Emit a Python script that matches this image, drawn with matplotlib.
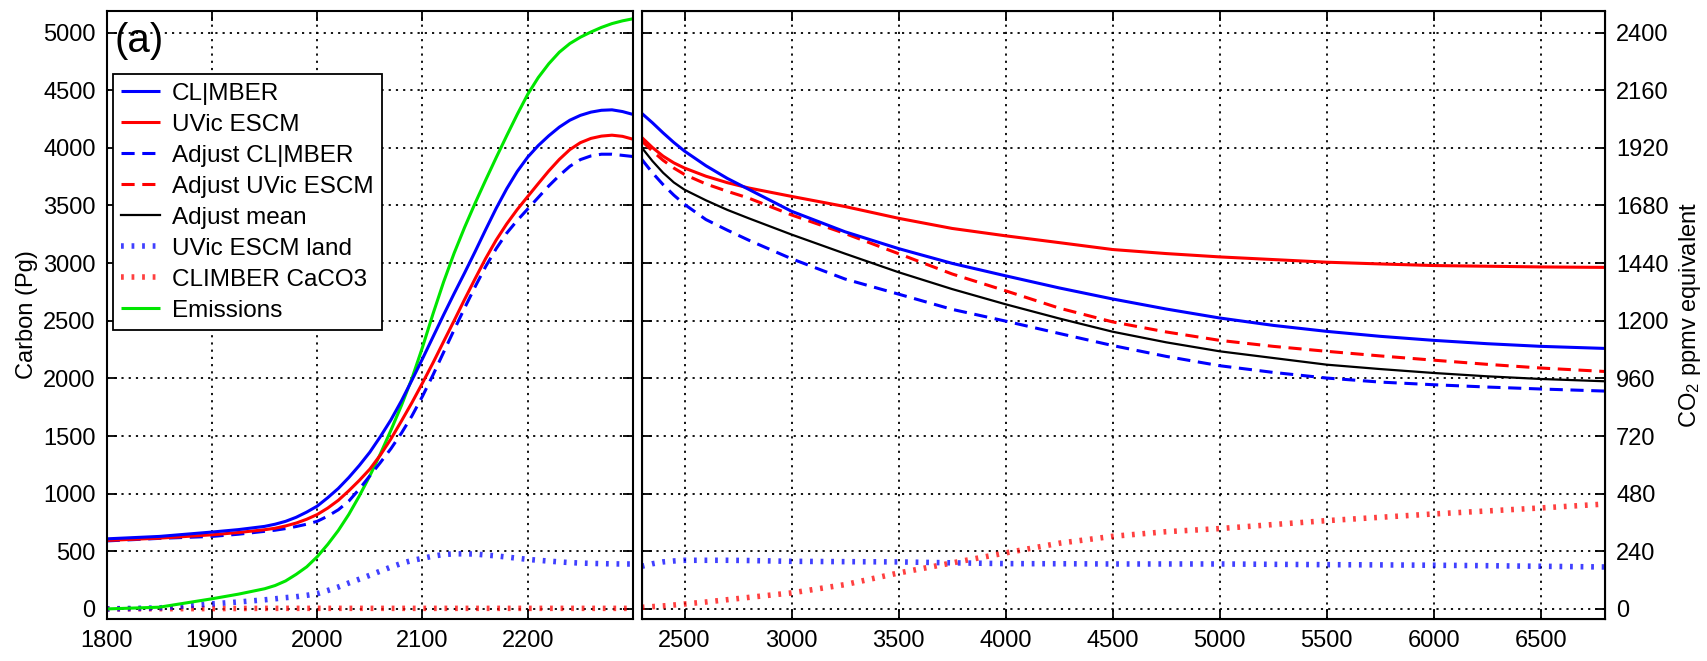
import matplotlib
matplotlib.use('Agg')
import matplotlib.pyplot as plt
from matplotlib.lines import Line2D

plt.rcParams['font.family'] = ['Liberation Sans', 'DejaVu Sans']
plt.rcParams['mathtext.fontset'] = 'custom'
plt.rcParams['mathtext.rm'] = 'Liberation Sans'
plt.rcParams['mathtext.it'] = 'Liberation Sans'

# ---------------- data (Pg C) ----------------
years_left = [1800, 1850, 1900, 1925, 1950, 1960, 1970, 1980, 1990,
              2000, 2010, 2020, 2030, 2040, 2050, 2060, 2070, 2080, 2090,
              2100, 2110, 2120, 2130, 2140, 2150, 2160, 2170, 2180, 2190,
              2200, 2210, 2220, 2230, 2240, 2250, 2260, 2270, 2280, 2290, 2300]
climber_left = [608, 629, 667, 688, 716, 735, 760, 795, 840,
                892, 965, 1045, 1140, 1245, 1360, 1495, 1640, 1805, 1985,
                2170, 2360, 2550, 2735, 2915, 3100, 3290, 3475, 3645, 3795,
                3920, 4020, 4105, 4180, 4240, 4282, 4310, 4326, 4330, 4315, 4290]
uvic_left = [594, 614, 643, 663, 687, 700, 720, 745, 778,
             819, 875, 942, 1025, 1115, 1213, 1335, 1475, 1630, 1790,
             1960, 2135, 2318, 2500, 2685, 2865, 3040, 3200, 3340, 3465,
             3578, 3690, 3800, 3900, 3985, 4045, 4082, 4102, 4110, 4100, 4075]
adj_climber_left = [590, 612, 629, 648, 673, 683, 697, 715, 735,
                    760, 805, 860, 935, 1040, 1155, 1270, 1390, 1525, 1675,
                    1845, 2030, 2225, 2420, 2610, 2795, 2970, 3125, 3260, 3370,
                    3470, 3570, 3670, 3760, 3840, 3898, 3930, 3945, 3945, 3935, 3925]
emissions_left = [0, 15, 88, 128, 175, 203, 243, 300, 365,
                  453, 560, 680, 820, 980, 1155, 1345, 1550, 1765, 2000,
                  2270, 2560, 2835, 3085, 3310, 3520, 3720, 3915, 4105, 4290,
                  4465, 4610, 4730, 4830, 4905, 4960, 5005, 5045, 5078, 5102, 5120]
land_left = [0, 9, 44, 60, 79, 88, 98, 106, 118,
             132, 160, 190, 225, 258, 292, 328, 363, 395, 420,
             439, 458, 472, 478, 478, 476, 468, 460, 450, 440,
             430, 422, 415, 408, 402, 398, 395, 393, 391, 390, 390]
caco3_left = [0, 2, 3, 4, 5, 5, 5, 5, 5,
              5, 5, 5, 5, 5, 5, 5, 5, 5, 5,
              5, 5, 5, 5, 5, 5, 5, 5, 5, 5,
              5, 5, 5, 5, 5, 5, 5, 5, 5, 5, 5]

years_right = [2300, 2350, 2400, 2450, 2500, 2600, 2700, 2800, 3000, 3250,
               3500, 3750, 4000, 4250, 4500, 4750, 5000, 5250, 5500, 5750,
               6000, 6250, 6500, 6800]
climber_right = [4300, 4218, 4130, 4047, 3972, 3845, 3735, 3640, 3450, 3272,
                 3126, 2998, 2890, 2785, 2689, 2602, 2524, 2460, 2408, 2365,
                 2330, 2301, 2278, 2260]
uvic_right = [4091, 4003, 3928, 3870, 3825, 3754, 3698, 3652, 3579, 3491,
              3389, 3301, 3237, 3178, 3118, 3083, 3054, 3031, 3008, 2993,
              2979, 2973, 2967, 2963]
adj_uvic_right = [4061, 3972, 3892, 3825, 3769, 3687, 3623, 3564, 3418, 3257,
                  3082, 2906, 2760, 2610, 2490, 2403, 2330, 2278, 2235, 2195,
                  2158, 2122, 2090, 2060]
adj_mean_right = [4003, 3886, 3784, 3700, 3637, 3545, 3462, 3389, 3248, 3082,
                  2921, 2775, 2643, 2520, 2405, 2313, 2235, 2177, 2119, 2081,
                  2047, 2018, 1995, 1975]
adj_climber_right = [3901, 3784, 3681, 3590, 3510, 3378, 3286, 3199, 3038, 2862,
                     2731, 2599, 2497, 2390, 2285, 2191, 2110, 2052, 2003, 1968,
                     1945, 1925, 1908, 1890]
land_right = [370, 392, 408, 416, 422, 422, 422, 420, 413, 410,
              408, 400, 393, 392, 390, 390, 390, 387, 384, 382,
              379, 375, 370, 364]
caco3_right = [14, 20, 26, 34, 43, 60, 80, 100, 139, 211,
               312, 399, 486, 570, 630, 670, 697, 732, 766, 795,
               824, 850, 876, 910]

left_xticks = [1800, 1900, 2000, 2100, 2200]
right_xticks = [2500, 3000, 3500, 4000, 4500, 5000, 5500, 6000, 6500]
carbon_ticks = list(range(0, 5001, 500))
ppmv_ticks = list(range(0, 2401, 240))
PPMV_PER_PG = 0.48

labels = ['CL|MBER', 'UVic ESCM', 'Adjust CL|MBER', 'Adjust UVic ESCM',
          'Adjust mean', 'UVic ESCM land', 'CLIMBER CaCO3', 'Emissions']

# ---------------- styles ----------------
BLUE = '#0000ff'
RED = '#ff0000'
GREEN = '#00e600'
solid = dict(lw=2.2, solid_capstyle='butt', solid_joinstyle='round')
dashed = dict(lw=2.2, dashes=(4.3, 2.5), dash_capstyle='butt')
dotted = dict(lw=4.0, dashes=(0.5, 1.4), dash_capstyle='butt', alpha=0.75)
thin = dict(lw=1.6, solid_joinstyle='round')

W, H = 1708, 661
fig = plt.figure(figsize=(W / 100, H / 100), dpi=100)
bottom = (H - 619.3) / H
height = (619.3 - 10.7) / H
ax1 = fig.add_axes([106.7 / W, bottom, (633 - 106.7) / W, height])
ax2 = fig.add_axes([641.7 / W, bottom, (1605 - 641.7) / W, height])

ylim = (-90, 5190)

# left panel
ax1.plot(years_left, caco3_left, color=RED, **dotted)
ax1.plot(years_left, land_left, color=BLUE, **dotted)
ax1.plot(years_left, emissions_left, color=GREEN, **solid)
ax1.plot(years_left, adj_climber_left, color=BLUE, **dashed)
ax1.plot(years_left, uvic_left, color=RED, **solid)
ax1.plot(years_left, climber_left, color=BLUE, **solid)

# right panel
ax2.plot(years_right, caco3_right, color=RED, **dotted)
ax2.plot(years_right, land_right, color=BLUE, **dotted)
ax2.plot(years_right, adj_climber_right, color=BLUE, **dashed)
ax2.plot(years_right, adj_uvic_right, color=RED, **dashed)
ax2.plot(years_right, adj_mean_right, color='k', **thin)
ax2.plot(years_right, uvic_right, color=RED, **solid)
ax2.plot(years_right, climber_right, color=BLUE, **solid)

grid_kw = dict(color='k', lw=1.3, linestyle=(0, (1.2, 2.8)))
tick_kw = dict(direction='in', length=7, width=1.3, top=True, right=True,
               labelsize=17, pad=8)

ax1.set_xlim(1800, 2300)
ax1.set_xticks(left_xticks)
ax2.set_xlim(2300, 6800)
ax2.set_xticks(right_xticks)
for ax in (ax1, ax2):
    ax.set_ylim(*ylim)
    ax.set_yticks(carbon_ticks)
    ax.grid(True, **grid_kw)
    ax.tick_params(**tick_kw)
    for sp in ax.spines.values():
        sp.set_linewidth(1.5)
ax2.tick_params(labelleft=False)

ax2r = ax2.twinx()
ax2r.set_ylim(ylim[0] * PPMV_PER_PG, ylim[1] * PPMV_PER_PG)
ax2r.set_yticks(ppmv_ticks)
ax2r.tick_params(direction='in', length=7, width=1.3, labelsize=17, pad=8)
ax2r.set_ylabel('CO$_\\mathrm{2}$ ppmv equivalent', fontsize=17, labelpad=6)

ax1.set_ylabel('Carbon (Pg)', fontsize=17, labelpad=4)

ax1.text(0.014, 0.982, '(a)', transform=ax1.transAxes, fontsize=29,
         ha='left', va='top')

handles = [
    Line2D([], [], color=BLUE, **solid),
    Line2D([], [], color=RED, **solid),
    Line2D([], [], color=BLUE, **dashed),
    Line2D([], [], color=RED, **dashed),
    Line2D([], [], color='k', **thin),
    Line2D([], [], color=BLUE, **dotted),
    Line2D([], [], color=RED, **dotted),
    Line2D([], [], color=GREEN, **solid),
]
leg = ax1.legend(handles, labels, loc='upper left',
                 bbox_to_anchor=((112.7 - 106.7) / 526.3, (619.3 - 74) / 608.6),
                 fontsize=17.5, frameon=True, fancybox=False, edgecolor='k',
                 framealpha=1, borderpad=0.35, labelspacing=0.37,
                 handlelength=1.6, handletextpad=0.5, borderaxespad=0)
leg.get_frame().set_linewidth(1.3)

fig.savefig('out.png', dpi=100)
